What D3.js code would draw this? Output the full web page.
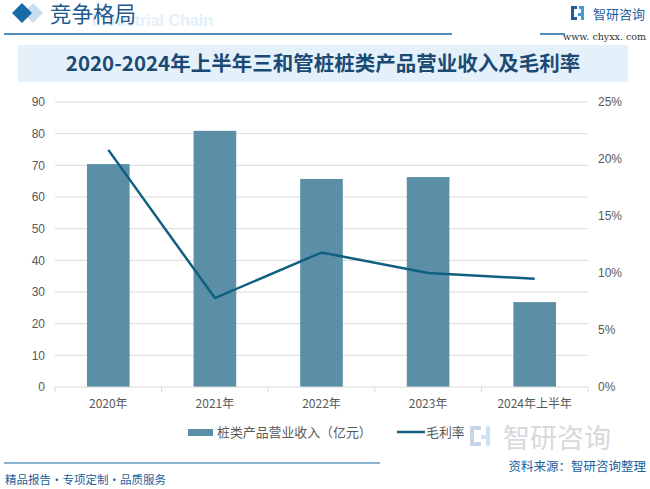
<!DOCTYPE html>
<html>
<head>
<meta charset="utf-8">
<script src="https://cdn.jsdelivr.net/npm/d3@7"></script>
<style>
  body { margin: 0; background: #fff; }
  text { font-family: "Noto Sans CJK SC", "Noto Sans", sans-serif; }
</style>
</head>
<body>
<div id="chart"></div>
<script>
// data
var years = ["2020年", "2021年", "2022年", "2023年", "2024年上半年"];
var revenue = [70.4, 80.9, 65.7, 66.3, 26.8];      // 桩类产品营业收入（亿元）
var margin_rate = [20.8, 7.8, 11.8, 10.0, 9.5];    // 毛利率 %
var leftTicks = [0, 10, 20, 30, 40, 50, 60, 70, 80, 90];
var rightTicks = [0, 5, 10, 15, 20, 25];

var W = 650, H = 489;
var plot = { left: 55, right: 588, top: 102, bottom: 387 };

var svg = d3.select("#chart").append("svg")
    .attr("width", W)
    .attr("height", H);

// ---- header ----
svg.append("text")
    .attr("x", 92).attr("y", 26)
    .attr("font-size", 16).attr("font-weight", "bold")
    .attr("fill", "#e3f0fa")
    .style("font-family", "Liberation Sans, Arial, sans-serif")
    .text("Industrial Chain");

svg.append("path")
    .attr("d", "M23,13 L33,3 L43,13 L33,23 Z")
    .attr("fill", "#c9dff0");
svg.append("path")
    .attr("d", "M12,13 L22,3 L32,13 L22,23 Z")
    .attr("fill", "#1a6aa8");

svg.append("text")
    .attr("x", 50).attr("y", 22)
    .attr("font-size", 21.5)
    .attr("fill", "#1d5b8f")
    .text("竞争格局");

svg.append("line")
    .attr("x1", 4).attr("x2", 452).attr("y1", 34).attr("y2", 34)
    .attr("stroke", "#1a6aa8").attr("stroke-width", 1.5);

// logo top right
var logo = svg.append("g").attr("transform", "translate(571,6)");
logo.append("rect").attr("x", 0).attr("y", 0).attr("width", 6).attr("height", 3).attr("fill", "#1f5fa0");
logo.append("rect").attr("x", 0).attr("y", 0).attr("width", 3).attr("height", 14).attr("fill", "#1f5fa0");
logo.append("rect").attr("x", 0).attr("y", 11).attr("width", 6).attr("height", 3).attr("fill", "#1f5fa0");
logo.append("rect").attr("x", 8).attr("y", 0).attr("width", 5).attr("height", 3).attr("fill", "#3b9be0");
logo.append("rect").attr("x", 10).attr("y", 0).attr("width", 3).attr("height", 14).attr("fill", "#3b9be0");
logo.append("rect").attr("x", 7).attr("y", 7).attr("width", 6).attr("height", 3).attr("fill", "#3b9be0");
svg.append("text")
    .attr("x", 593).attr("y", 19)
    .attr("font-size", 13)
    .attr("fill", "#1f5fa0")
    .text("智研咨询");
svg.append("text")
    .attr("x", 646).attr("y", 40)
    .attr("text-anchor", "end")
    .attr("font-size", 9.5)
    .attr("fill", "#333")
    .style("font-family", "DejaVu Serif, serif")
    .text("www. chyxx. com");
svg.append("line")
    .attr("x1", 540).attr("x2", 565).attr("y1", 34).attr("y2", 34)
    .attr("stroke", "#1a6aa8").attr("stroke-width", 1.5);

// ---- title banner ----
svg.append("rect")
    .attr("x", 18).attr("y", 45)
    .attr("width", 610).attr("height", 37)
    .attr("fill", "#e5f1fa");
svg.append("text")
    .attr("x", 323).attr("y", 71)
    .attr("text-anchor", "middle")
    .attr("font-size", 20.5).attr("font-weight", "bold")
    .attr("fill", "#1b4a75")
    .text("2020-2024年上半年三和管桩桩类产品营业收入及毛利率");

// ---- scales ----
var xScale = d3.scaleBand()
    .domain(years)
    .range([plot.left, plot.right])
    .paddingInner(0.6)
    .paddingOuter(0.3);

var yLeft = d3.scaleLinear().domain([0, 90]).range([plot.bottom, plot.top]);
var yRight = d3.scaleLinear().domain([0, 25]).range([plot.bottom, plot.top]);

// gridlines
svg.append("g")
    .selectAll("line")
    .data(leftTicks.slice(1))
    .enter()
    .append("line")
    .attr("x1", plot.left).attr("x2", plot.right)
    .attr("y1", function(d) { return yLeft(d) })
    .attr("y2", function(d) { return yLeft(d) })
    .attr("stroke", "#d9d9d9").attr("stroke-width", 1);

// left axis
var lAxis = d3.axisLeft(yLeft).tickValues(leftTicks).tickSize(0).tickPadding(10);
var lG = svg.append("g")
    .attr("transform", "translate(" + plot.left + ",0)")
    .call(lAxis);
lG.select(".domain").remove();
lG.selectAll("text").attr("font-size", 12).attr("fill", "#595959")
    .style("font-family", "Liberation Sans, Arial, sans-serif");

// right axis
var rAxis = d3.axisRight(yRight).tickValues(rightTicks).tickSize(0).tickPadding(10)
    .tickFormat(function(d) { return d + "%" });
var rG = svg.append("g")
    .attr("transform", "translate(" + plot.right + ",0)")
    .call(rAxis);
rG.select(".domain").remove();
rG.selectAll("text").attr("font-size", 12).attr("fill", "#595959")
    .style("font-family", "Liberation Sans, Arial, sans-serif");

// bars
svg.append("g")
    .selectAll("rect")
    .data(revenue)
    .enter()
    .append("rect")
    .attr("x", function(d, i) { return xScale(years[i]) })
    .attr("y", function(d) { return yLeft(d) })
    .attr("width", xScale.bandwidth())
    .attr("height", function(d) { return yLeft(0) - yLeft(d) })
    .attr("fill", "#5b8fa7");

// bottom axis
var bG = svg.append("g");
bG.append("line")
    .attr("x1", plot.left).attr("x2", plot.right)
    .attr("y1", plot.bottom).attr("y2", plot.bottom)
    .attr("stroke", "#d9d9d9");
var bounds = d3.range(years.length + 1).map(function(i) { return plot.left + i * (plot.right - plot.left) / years.length });
bG.selectAll(".tk")
    .data(bounds)
    .enter()
    .append("line")
    .attr("x1", function(d) { return d }).attr("x2", function(d) { return d })
    .attr("y1", plot.bottom).attr("y2", plot.bottom + 5)
    .attr("stroke", "#d9d9d9");
bG.selectAll(".lbl")
    .data(years)
    .enter()
    .append("text")
    .attr("x", function(d) { return xScale(d) + xScale.bandwidth() / 2 })
    .attr("y", 408)
    .attr("text-anchor", "middle")
    .attr("font-size", 12)
    .attr("fill", "#595959")
    .text(function(d) { return d });

// margin line
var line = d3.line()
    .x(function(d, i) { return xScale(years[i]) + xScale.bandwidth() / 2 })
    .y(function(d) { return yRight(d) });
svg.append("path")
    .datum(margin_rate)
    .attr("d", line)
    .attr("fill", "none")
    .attr("stroke", "#0f5f80")
    .attr("stroke-width", 2.5);

// faint watermark logo near legend
svg.append("text")
    .attr("x", 503).attr("y", 448)
    .attr("font-size", 27).attr("fill", "#d6d9dd")
    .text("智研咨询");
svg.append("rect").attr("x", 470).attr("y", 426).attr("width", 11).attr("height", 4).attr("fill", "#c8d6e6");
svg.append("rect").attr("x", 470).attr("y", 426).attr("width", 4).attr("height", 20).attr("fill", "#c8d6e6");
svg.append("rect").attr("x", 470).attr("y", 442).attr("width", 11).attr("height", 4).attr("fill", "#c8d6e6");
svg.append("rect").attr("x", 486).attr("y", 426).attr("width", 4).attr("height", 20).attr("fill", "#cfe0f0");
svg.append("rect").attr("x", 481).attr("y", 435).attr("width", 9).attr("height", 4).attr("fill", "#cfe0f0");

// ---- legend ----
svg.append("rect")
    .attr("x", 188).attr("y", 429).attr("width", 25).attr("height", 7)
    .attr("fill", "#5b8fa7");
svg.append("text")
    .attr("x", 217).attr("y", 437)
    .attr("font-size", 12.9).attr("fill", "#595959")
    .text("桩类产品营业收入（亿元）");
svg.append("line")
    .attr("x1", 397).attr("x2", 425).attr("y1", 432).attr("y2", 432)
    .attr("stroke", "#0f5f80").attr("stroke-width", 2.5);
svg.append("text")
    .attr("x", 426).attr("y", 437)
    .attr("font-size", 12.9).attr("fill", "#595959")
    .text("毛利率");

// ---- footer ----
svg.append("line")
    .attr("x1", 4).attr("x2", 380).attr("y1", 463).attr("y2", 463)
    .attr("stroke", "#1a6aa8").attr("stroke-width", 1.2);
svg.append("text")
    .attr("x", 646).attr("y", 471)
    .attr("text-anchor", "end")
    .attr("font-size", 12.5).attr("fill", "#1a5f9e")
    .text("资料来源：智研咨询整理");
svg.append("text")
    .attr("x", 5).attr("y", 484)
    .attr("font-size", 11.5).attr("fill", "#1a5f9e")
    .text("精品报告·专项定制·品质服务");
</script>
</body>
</html>
